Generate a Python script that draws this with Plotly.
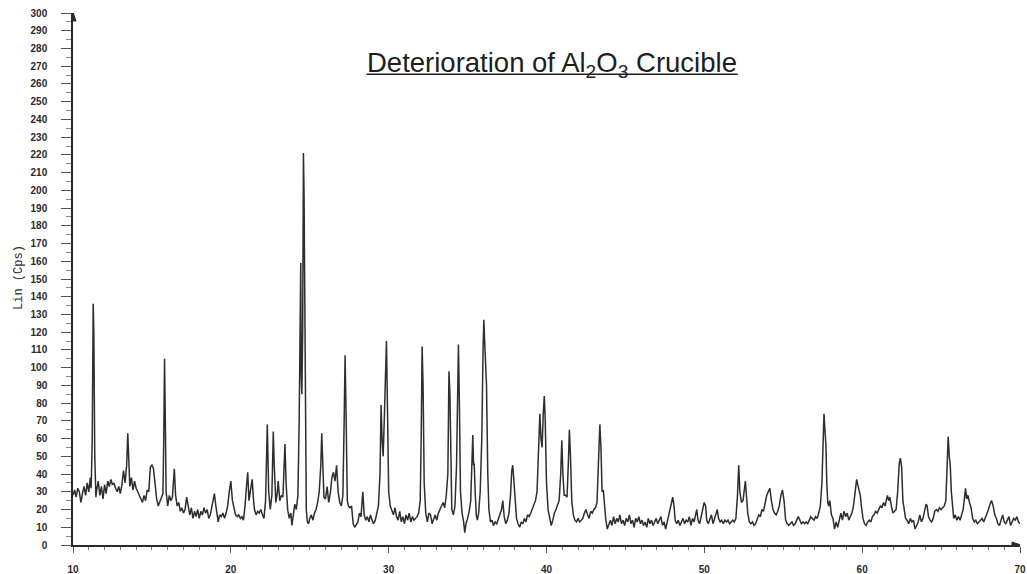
import plotly.graph_objects as go

# ---- XRD scan values (2-theta in degrees, Lin counts) ----
angle_10_20 = [10.0, 10.1, 10.2, 10.3, 10.4, 10.5, 10.6, 10.7, 10.8, 10.9,
               11.0, 11.1, 11.15, 11.22, 11.28, 11.32, 11.38, 11.45, 11.5, 11.6,
               11.7, 11.8, 11.9, 12.0, 12.1, 12.2, 12.3, 12.4, 12.5, 12.6,
               12.7, 12.8, 12.9, 13.0, 13.1, 13.2, 13.3, 13.4, 13.47, 13.55,
               13.6, 13.7, 13.8, 13.9, 14.0, 14.1, 14.2, 14.3, 14.4, 14.5,
               14.6, 14.7, 14.8, 14.9, 15.0, 15.1, 15.2, 15.3, 15.4, 15.5,
               15.6, 15.7, 15.75, 15.8, 15.85, 15.9, 16.0, 16.1, 16.2, 16.3,
               16.42, 16.5, 16.6, 16.7, 16.8, 16.9, 17.0, 17.1, 17.2, 17.3,
               17.4, 17.5, 17.6, 17.7, 17.8, 17.9, 18.0, 18.1, 18.2, 18.3,
               18.4, 18.5, 18.6, 18.7, 18.8, 18.9, 18.96, 19.05, 19.15, 19.2,
               19.3, 19.4, 19.5, 19.6, 19.7, 19.8, 19.9]
counts_10_20 = [28, 31, 27, 32, 30, 24, 29, 33, 28, 35,
                30, 38, 32, 60, 136, 120, 50, 27, 31, 36,
                28, 33, 26, 34, 29, 36, 33, 37, 34, 35,
                32, 30, 33, 29, 34, 42, 35, 45, 63, 40,
                33, 38, 31, 36, 32, 30, 28, 26, 24, 28,
                25, 31, 30, 44, 45, 43, 34, 26, 22, 24,
                27, 29, 60, 105, 70, 30, 22, 28, 25, 27,
                43, 28, 22, 24, 19, 21, 18, 20, 27, 22,
                17, 21, 15, 19, 16, 20, 15, 19, 17, 21,
                18, 20, 15, 17, 22, 27, 29, 22, 14, 13,
                17, 16, 18, 15, 18, 22, 30]

angle_20_30 = [20.0, 20.1, 20.2, 20.3, 20.4, 20.5, 20.6, 20.7, 20.8, 20.9,
               21.0, 21.07, 21.15, 21.25, 21.35, 21.45, 21.5, 21.6, 21.7, 21.8,
               21.9, 22.0, 22.1, 22.2, 22.31, 22.4, 22.5, 22.6, 22.69, 22.75,
               22.85, 22.95, 23.0, 23.1, 23.2, 23.3, 23.43, 23.5, 23.6, 23.7,
               23.8, 23.87, 23.95, 24.05, 24.15, 24.25, 24.33, 24.4, 24.43, 24.46,
               24.5, 24.55, 24.6, 24.64, 24.68, 24.72, 24.78, 24.85, 24.93, 25.0,
               25.1, 25.2, 25.3, 25.4, 25.5, 25.6, 25.7, 25.76, 25.82, 25.9,
               26.0, 26.1, 26.2, 26.3, 26.4, 26.5, 26.6, 26.7, 26.8, 26.9,
               27.0, 27.1, 27.18, 27.24, 27.3, 27.38, 27.45, 27.55, 27.65, 27.75,
               27.85, 27.95, 28.05, 28.15, 28.25, 28.36, 28.45, 28.55, 28.65, 28.75,
               28.85, 28.95, 29.05, 29.15, 29.25, 29.35, 29.45, 29.52, 29.58, 29.65,
               29.72, 29.8, 29.86, 29.92]
counts_20_30 = [36, 25, 20, 17, 16, 17, 15, 16, 14, 22,
                34, 41, 25, 30, 37, 24, 20, 17, 19, 18,
                20, 17, 15, 25, 68, 30, 20, 28, 64, 45,
                24, 30, 36, 25, 28, 27, 57, 35, 20, 15,
                18, 11, 17, 23, 20, 28, 70, 150, 159, 95,
                85, 120, 221, 197, 140, 60, 20, 13, 12, 15,
                17, 14, 18, 20, 24, 30, 45, 63, 40, 27,
                26, 33, 24, 29, 38, 41, 36, 45, 30, 24,
                22, 28, 70, 107, 75, 25, 22, 21, 22, 12,
                10, 12, 13, 18, 16, 30, 17, 14, 16, 13,
                17, 14, 12, 14, 18, 22, 40, 79, 60, 50,
                70, 100, 115, 80]

angle_30_40 = [30.0, 30.1, 30.2, 30.3, 30.4, 30.5, 30.6, 30.7, 30.8, 30.9,
               31.0, 31.1, 31.2, 31.3, 31.4, 31.5, 31.6, 31.7, 31.8, 31.9,
               32.0, 32.06, 32.12, 32.18, 32.25, 32.35, 32.45, 32.55, 32.65, 32.75,
               32.85, 32.95, 33.05, 33.15, 33.25, 33.35, 33.45, 33.55, 33.65, 33.75,
               33.82, 33.88, 33.94, 34.0, 34.1, 34.2, 34.3, 34.37, 34.42, 34.48,
               34.55, 34.65, 34.75, 34.82, 34.9, 35.0, 35.1, 35.2, 35.28, 35.33,
               35.38, 35.42, 35.48, 35.55, 35.62, 35.7, 35.8, 35.9, 35.98, 36.03,
               36.08, 36.15, 36.2, 36.28, 36.35, 36.45, 36.55, 36.65, 36.75, 36.85,
               36.95, 37.05, 37.15, 37.23, 37.32, 37.42, 37.52, 37.62, 37.72, 37.8,
               37.86, 37.92, 38.0, 38.1, 38.2, 38.3, 38.4, 38.5, 38.6, 38.7,
               38.8, 38.9, 39.0, 39.1, 39.2, 39.3, 39.4, 39.5, 39.58, 39.65,
               39.72, 39.8, 39.86, 39.92]
counts_30_40 = [30, 22, 19, 17, 21, 16, 14, 19, 13, 16,
                12, 17, 14, 18, 13, 16, 14, 15, 16, 18,
                25, 60, 112, 90, 35, 18, 13, 18, 17, 12,
                15, 17, 14, 18, 20, 22, 24, 21, 28, 40,
                98, 85, 35, 20, 17, 22, 45, 100, 113, 80,
                30, 18, 13, 7, 12, 15, 19, 25, 55, 62,
                45, 46, 30, 17, 14, 18, 30, 60, 110, 127,
                115, 100, 90, 40, 20, 13, 14, 11, 13, 12,
                15, 17, 20, 25, 16, 12, 14, 18, 28, 42,
                45, 38, 25, 15, 12, 10, 13, 12, 15, 13,
                17, 16, 18, 20, 22, 25, 30, 50, 74, 60,
                55, 75, 84, 70]

angle_40_50 = [40.0, 40.1, 40.2, 40.3, 40.4, 40.5, 40.6, 40.7, 40.8, 40.9,
               40.97, 41.04, 41.12, 41.2, 41.3, 41.38, 41.45, 41.52, 41.6, 41.7,
               41.8, 41.9, 42.0, 42.1, 42.2, 42.3, 42.4, 42.5, 42.6, 42.7,
               42.8, 42.9, 43.0, 43.1, 43.2, 43.3, 43.38, 43.45, 43.52, 43.6,
               43.68, 43.75, 43.85, 43.95, 44.05, 44.15, 44.25, 44.35, 44.45, 44.55,
               44.65, 44.75, 44.85, 44.95, 45.05, 45.15, 45.25, 45.35, 45.45, 45.55,
               45.65, 45.75, 45.85, 45.95, 46.05, 46.15, 46.25, 46.35, 46.45, 46.55,
               46.65, 46.75, 46.85, 46.95, 47.05, 47.15, 47.25, 47.35, 47.45, 47.55,
               47.65, 47.75, 47.85, 47.95, 48.0, 48.08, 48.15, 48.25, 48.35, 48.45,
               48.55, 48.65, 48.75, 48.85, 48.95, 49.05, 49.15, 49.25, 49.35, 49.45,
               49.52, 49.6, 49.7, 49.8, 49.9, 49.99]
counts_40_50 = [35, 20, 15, 11, 14, 18, 20, 22, 25, 40,
                59, 40, 28, 28, 27, 45, 65, 50, 25, 17,
                14, 13, 15, 13, 14, 15, 18, 20, 17, 15,
                19, 18, 20, 21, 24, 45, 68, 55, 30, 31,
                22, 15, 9, 12, 14, 11, 16, 12, 15, 13,
                17, 12, 14, 11, 15, 13, 17, 12, 14, 10,
                15, 13, 16, 12, 14, 11, 13, 10, 15, 12,
                14, 11, 13, 15, 12, 14, 16, 11, 13, 9,
                14, 17, 21, 25, 27, 22, 14, 12, 14, 11,
                13, 15, 12, 14, 13, 16, 11, 15, 13, 17,
                20, 14, 12, 16, 21, 24]

angle_50_60 = [50.08, 50.15, 50.25, 50.35, 50.45, 50.55, 50.65, 50.75, 50.82, 50.9,
               51.0, 51.1, 51.2, 51.3, 51.4, 51.5, 51.6, 51.7, 51.8, 51.9,
               52.0, 52.1, 52.18, 52.25, 52.3, 52.35, 52.45, 52.55, 52.6, 52.65,
               52.75, 52.85, 52.95, 53.05, 53.15, 53.25, 53.35, 53.45, 53.55, 53.65,
               53.75, 53.85, 53.95, 54.05, 54.15, 54.25, 54.35, 54.45, 54.55, 54.65,
               54.75, 54.85, 54.95, 55.05, 55.15, 55.25, 55.35, 55.45, 55.55, 55.65,
               55.75, 55.85, 55.95, 56.05, 56.15, 56.25, 56.35, 56.45, 56.55, 56.65,
               56.75, 56.85, 56.95, 57.05, 57.15, 57.25, 57.35, 57.45, 57.52, 57.58,
               57.64, 57.7, 57.76, 57.82, 57.88, 57.95, 58.05, 58.15, 58.25, 58.35,
               58.45, 58.55, 58.65, 58.75, 58.85, 58.95, 59.05, 59.15, 59.25, 59.35,
               59.45, 59.55, 59.65, 59.72, 59.8, 59.88, 59.95]
counts_50_60 = [22, 14, 12, 15, 17, 12, 15, 19, 20, 15,
                13, 14, 12, 14, 13, 14, 12, 13, 14, 13,
                15, 28, 45, 30, 28, 24, 25, 33, 36, 30,
                18, 13, 12, 13, 11, 12, 14, 17, 16, 20,
                19, 23, 28, 30, 32, 25, 20, 18, 17, 19,
                22, 28, 31, 25, 14, 12, 11, 12, 13, 11,
                12, 14, 16, 14, 12, 13, 12, 13, 12, 14,
                16, 15, 14, 16, 15, 18, 22, 35, 60, 74,
                65, 57, 35, 24, 22, 25, 17, 15, 9, 13,
                10, 15, 18, 14, 19, 16, 18, 14, 16, 18,
                22, 30, 37, 34, 30, 28, 22]

angle_60_70 = [60.05, 60.15, 60.25, 60.35, 60.45, 60.55, 60.65, 60.75, 60.85, 60.95,
               61.05, 61.15, 61.25, 61.35, 61.45, 61.55, 61.6, 61.68, 61.75, 61.85,
               61.95, 62.05, 62.15, 62.25, 62.35, 62.42, 62.5, 62.58, 62.65, 62.75,
               62.85, 62.95, 63.05, 63.15, 63.25, 63.35, 63.45, 63.55, 63.65, 63.75,
               63.85, 63.95, 64.05, 64.12, 64.2, 64.3, 64.4, 64.5, 64.6, 64.7,
               64.8, 64.9, 65.0, 65.1, 65.2, 65.3, 65.38, 65.45, 65.52, 65.58,
               65.65, 65.72, 65.8, 65.9, 66.0, 66.1, 66.2, 66.3, 66.4, 66.5,
               66.55, 66.62, 66.7, 66.8, 66.9, 67.0, 67.1, 67.2, 67.3, 67.4,
               67.5, 67.6, 67.7, 67.8, 67.9, 68.0, 68.1, 68.2, 68.3, 68.4,
               68.5, 68.6, 68.7, 68.8, 68.9, 69.0, 69.1, 69.2, 69.3, 69.4,
               69.5, 69.6, 69.7, 69.8, 69.9, 70.0]
counts_60_70 = [15, 12, 11, 13, 14, 13, 16, 17, 19, 18,
                20, 22, 21, 24, 22, 26, 28, 25, 27, 22,
                18, 19, 20, 30, 46, 49, 44, 25, 20, 15,
                14, 12, 15, 13, 14, 9, 11, 13, 17, 13,
                15, 19, 23, 22, 16, 14, 13, 15, 19, 20,
                19, 21, 20, 21, 22, 25, 45, 61, 50, 45,
                30, 20, 15, 17, 14, 16, 14, 17, 20, 28,
                32, 26, 28, 24, 21, 15, 13, 14, 12, 13,
                14, 15, 13, 15, 17, 20, 23, 25, 22, 17,
                15, 12, 11, 14, 17, 13, 12, 14, 16, 11,
                13, 15, 14, 16, 13, 12]

x_tick_values = [10, 20, 30, 40, 50, 60, 70]
y_tick_values = list(range(0, 301, 10))

two_theta = angle_10_20 + angle_20_30 + angle_30_40 + angle_40_50 + angle_50_60 + angle_60_70
counts = counts_10_20 + counts_20_30 + counts_30_40 + counts_40_50 + counts_50_60 + counts_60_70

INK = "#2a2a2a"
TICKFONT = dict(family="Liberation Sans, Arial, sans-serif", size=10, color=INK, weight="bold")

fig = go.Figure()
fig.add_trace(go.Scatter(
    x=two_theta, y=counts, mode="lines",
    line=dict(color="#2e2e2e", width=1.5),
    hoverinfo="x+y", showlegend=False,
))

fig.update_layout(
    width=1027, height=574,
    margin=dict(l=73, r=7, t=13, b=29, autoexpand=False),
    paper_bgcolor="white", plot_bgcolor="white",
    xaxis=dict(
        range=[10, 70], tickmode="array", tickvals=x_tick_values,
        ticktext=[str(v) for v in x_tick_values], automargin=False,
        showgrid=False, zeroline=False, showline=True, linecolor=INK, linewidth=1.5,
        ticks="outside", ticklen=6, tickcolor="#555", tickwidth=1,
        minor=dict(dtick=1, ticks="outside", ticklen=3, tickcolor="#777", tickwidth=1),
        tickfont=TICKFONT, ticklabelstandoff=8,
    ),
    yaxis=dict(
        range=[0, 300], tickmode="array", tickvals=y_tick_values,
        ticktext=[str(v) for v in y_tick_values], automargin=False,
        showgrid=False, zeroline=False, showline=True, linecolor=INK, linewidth=1.5,
        ticks="outside", ticklen=10, tickcolor="#555", tickwidth=1,
        minor=dict(dtick=5, ticks="outside", ticklen=5, tickcolor="#888", tickwidth=1),
        tickfont=TICKFONT, ticklabelstandoff=12,
    ),
    annotations=[
        dict(text="Deterioration of Al<sub>2</sub>O<sub>3</sub> Crucible",
             xref="paper", yref="paper", x=0.506, y=0.904,
             xanchor="center", yanchor="middle", showarrow=False,
             font=dict(family="Liberation Sans, Arial, sans-serif", size=27.5, color="#1e1e1e")),
        dict(text="Lin (Cps)", xref="paper", yref="paper", x=-0.057, y=0.502,
             xanchor="center", yanchor="middle", textangle=-90, showarrow=False,
             font=dict(family="Liberation Mono, Courier New, monospace", size=12, color=INK)),
    ],
    shapes=[
        # title underline
        dict(type="line", xref="paper", yref="paper", x0=0.310, x1=0.702,
             y0=0.885, y1=0.885, line=dict(color="#1e1e1e", width=1.5)),
        # axis-end arrowheads
        dict(type="path", xref="x", yref="y", xsizemode="pixel", ysizemode="pixel",
             xanchor=70, yanchor=0, path="M -8 -3 L 1 0 L -8 3 Z",
             fillcolor=INK, line=dict(color=INK, width=1)),
        dict(type="path", xref="x", yref="y", xsizemode="pixel", ysizemode="pixel",
             xanchor=10, yanchor=300, path="M -3 -8 L 0 1 L 3 -8 Z",
             fillcolor=INK, line=dict(color=INK, width=1)),
    ],
)

fig.write_html(
    "out.html",
    config={"displayModeBar": False},
    post_script="document.body.style.margin='0px';document.body.style.overflow='hidden';",
)
